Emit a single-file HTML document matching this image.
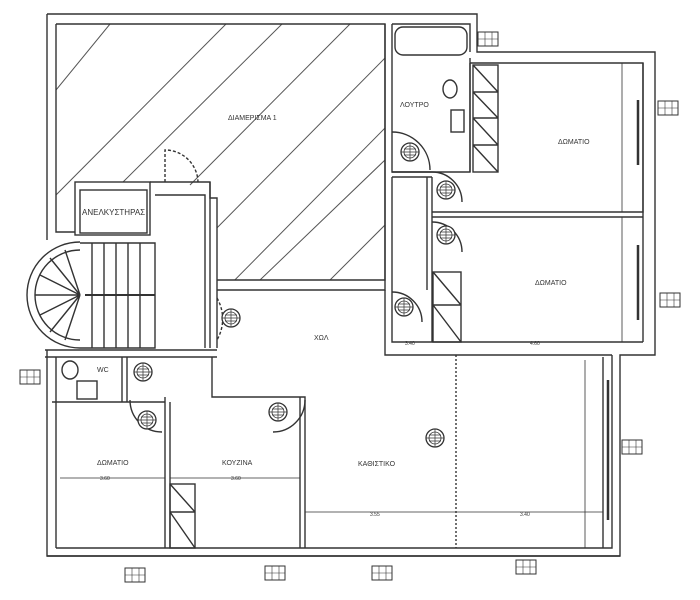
<!DOCTYPE html>
<html><head><meta charset="utf-8"><style>
html,body{margin:0;padding:0;background:#fff;}
svg{display:block;}
text{font-family:"Liberation Sans","DejaVu Sans",sans-serif;fill:#333;}
</style></head><body>
<svg width="700" height="600" viewBox="0 0 700 600" xmlns="http://www.w3.org/2000/svg">
<defs>
<clipPath id="ter"><path d="M56 24 H385 V280 H217 V190 H150 V182 H75 V238 H56 Z"/></clipPath>
<g id="fan"><circle r="9" fill="#fff" stroke="#333" stroke-width="1.3"/><circle r="6" fill="none" stroke="#333" stroke-width="0.8"/><path d="M-9 0H9M0 -9V9M-6 -3H6M-6 3H6" stroke="#333" stroke-width="0.7"/></g>
<g id="tag"><rect x="0" y="0" width="20" height="14" fill="#fff" stroke="#333" stroke-width="1"/><path d="M0 7H20M7 0V14M14 0V14" stroke="#333" stroke-width="0.6"/></g>
</defs>
<g fill="none" stroke="#333" stroke-width="1.4">
<g clip-path="url(#ter)" stroke="#555" stroke-width="1">
<line x1="56" y1="90" x2="110" y2="24"/><line x1="56" y1="195" x2="226" y2="24"/>
<line x1="120" y1="185" x2="282" y2="24"/><line x1="190" y1="185" x2="350" y2="24"/>
<line x1="205" y1="240" x2="385" y2="58"/><line x1="215" y1="300" x2="385" y2="128"/>
<line x1="260" y1="280" x2="385" y2="160"/><line x1="330" y1="280" x2="385" y2="225"/>
</g>
<path d="M47 14 H477 V52 H655 V355 H620 V556 H47 V350"/>
<path d="M56 24 H385 V280 H217"/>
<path d="M47 14 V240"/><path d="M56 24 V232 H75"/>
<path d="M392 24 H470 V52"/><path d="M392 24 V172 H432"/>
<path d="M385 24 V290 H217"/>
<rect x="395" y="27" width="72" height="28" rx="8"/>
<path d="M392 172 H470 V58"/><path d="M392 177 H432"/>
<path d="M470 63 H643 V212 H432"/><path d="M643 63 V342"/><path d="M432 217 H643"/>
<path d="M470 63 V172"/>
<rect x="473" y="65" width="25" height="107"/>
<path d="M473 92H498M473 118H498M473 145H498M473 65L498 92M473 92L498 118M473 118L498 145M473 145L498 172"/>
<ellipse cx="450" cy="89" rx="7" ry="9"/><rect x="451" y="110" width="13" height="22"/>
<path d="M392 177 V342 H643"/><path d="M385 290 V355 H612"/><path d="M432 177 V342"/><path d="M427 177 V290"/>
<rect x="433" y="272" width="28" height="70"/><path d="M433 305H461M433 272L461 305M433 305L461 342"/>
<path d="M612 355 V548 H56"/><path d="M603 357 V548"/>
<line x1="608" y1="380" x2="608" y2="520" stroke-width="2.5"/>
<line x1="638" y1="100" x2="638" y2="165" stroke-width="2.5"/>
<line x1="638" y1="245" x2="638" y2="320" stroke-width="2.5"/>
<rect x="75" y="182" width="75" height="53"/><rect x="80" y="190" width="67" height="43"/>
<path d="M150 182 H210 V348"/><path d="M155 195 H205 V348"/><path d="M210 182 V198 H217 V348"/>
<path d="M165 182 V150 A33 33 0 0 1 198 182" stroke-dasharray="3 2"/>
<path d="M80 243 H155 V348 H80"/>
<path d="M80 250 A45 45 0 0 0 80 340"/><path d="M80 242 A53 53 0 0 0 80 348"/>
<path d="M92 243V348M104 243V348M116 243V348M128 243V348M140 243V348"/>
<path d="M85 295H155" stroke-width="2"/>
<path d="M80 295 L40 275M80 295L50 258M80 295L65 250M80 295L40 315M80 295L50 332M80 295L65 340M80 295H35"/>
<path d="M45 350 H217 M45 357 H217"/>
<path d="M217 298 A42 42 0 0 1 217 340" stroke-dasharray="3 2"/>
<path d="M56 357 V548"/><path d="M52 402 H165"/><path d="M122 357 V402"/><path d="M127 357 V402"/>
<path d="M212 357 V397 H305 V548"/><path d="M165 397 V548"/><path d="M170 402 V548"/><path d="M300 397 V548"/>
<ellipse cx="70" cy="370" rx="8" ry="9"/><rect x="77" y="381" width="20" height="18"/>
<rect x="170" y="484" width="25" height="64"/><path d="M170 512H195M170 484L195 512M170 512L195 548"/>
<path d="M47 556 H620"/>
<path d="M392 132 A38 38 0 0 1 430 170"/><path d="M432 172 A30 30 0 0 1 462 202"/>
<path d="M432 222 A30 30 0 0 1 462 252"/><path d="M392 292 A30 30 0 0 1 422 322"/>
<path d="M130 400 A32 32 0 0 0 162 432"/><path d="M305 400 A32 32 0 0 1 273 432"/>
<path d="M622 63 V212M622 217V342M435 342H612M60 478H165M170 478H300M305 512H603M585 360V548" stroke-width="0.8"/>
<path d="M456 355 V548" stroke-dasharray="2 2"/>
</g>
<use href="#fan" x="231" y="318"/><use href="#fan" x="410" y="152"/><use href="#fan" x="446" y="190"/>
<use href="#fan" x="446" y="235"/><use href="#fan" x="404" y="307"/><use href="#fan" x="143" y="372"/>
<use href="#fan" x="147" y="420"/><use href="#fan" x="278" y="412"/><use href="#fan" x="435" y="438"/>
<use href="#tag" x="478" y="32"/><use href="#tag" x="658" y="101"/><use href="#tag" x="660" y="293"/>
<use href="#tag" x="622" y="440"/><use href="#tag" x="20" y="370"/><use href="#tag" x="125" y="568"/>
<use href="#tag" x="265" y="566"/><use href="#tag" x="372" y="566"/><use href="#tag" x="516" y="560"/>
<g font-size="7">
<text x="228" y="120">ΔΙΑΜΕΡΙΣΜΑ 1</text>
<text x="82" y="215" font-size="8">ΑΝΕΛΚΥΣΤΗΡΑΣ</text>
<text x="400" y="107">ΛΟΥΤΡΟ</text>
<text x="558" y="144">ΔΩΜΑΤΙΟ</text>
<text x="535" y="285">ΔΩΜΑΤΙΟ</text>
<text x="314" y="340">ΧΩΛ</text>
<text x="97" y="372">WC</text>
<text x="97" y="465">ΔΩΜΑΤΙΟ</text>
<text x="222" y="465">ΚΟΥΖΙΝΑ</text>
<text x="358" y="466">ΚΑΘΙΣΤΙΚΟ</text>
<text x="100" y="480" font-size="5">3.60</text><text x="231" y="480" font-size="5">3.60</text>
<text x="370" y="516" font-size="5">3.55</text><text x="520" y="516" font-size="5">3.40</text>
<text x="530" y="345" font-size="5">4.60</text><text x="405" y="345" font-size="5">3.40</text>
</g>
</svg>
</body></html>
